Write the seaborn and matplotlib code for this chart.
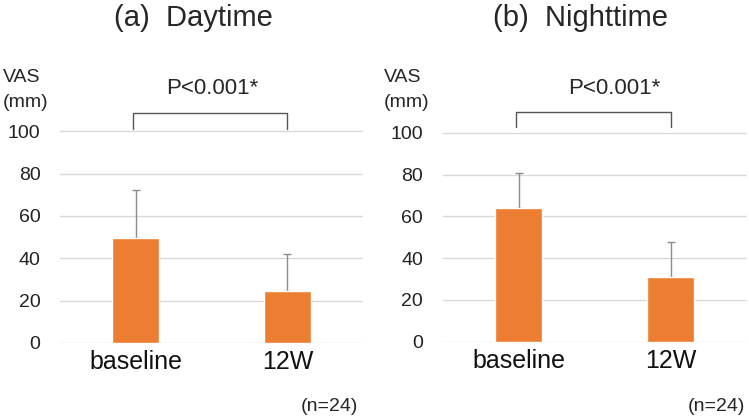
import numpy as np
import pandas as pd
import matplotlib
matplotlib.use("Agg")
import matplotlib.pyplot as plt
import seaborn as sns

# ----- DATA ---------------|
groups = ["baseline", "12W"]
day_mean = [49.5, 24.5]
day_sd = [22.7, 17.5]
night_mean = [64.0, 31.0]
night_sd = [16.6, 16.5]
titles = ["(a)  Daytime", "(b)  Nighttime"]
p_label = "P<0.001*"
n_label = "(n=24)"

BAR_COLOR = "#ED7D31"
ERR_COLOR = "#8c8c8c"
GRID_COLOR = "#d9d9d9"

sns.set_theme(style="white")
plt.rcParams["font.family"] = ["Liberation Sans", "DejaVu Sans"]

fig = plt.figure(figsize=(7.49, 4.17), dpi=100)
ax_day = fig.add_axes([0.080, 0.1775, 0.405, 0.569])
ax_night = fig.add_axes([0.591, 0.1806, 0.406, 0.561])


def draw_panel(ax, means, sds, bracket):
    df = pd.DataFrame({"group": groups, "vas": means})
    sns.barplot(data=df, x="group", y="vas", color=BAR_COLOR, width=0.31,
                saturation=1, errorbar=None, ax=ax, zorder=3)
    ax.errorbar(np.arange(len(groups)), means, yerr=[np.zeros(len(sds)), sds],
                fmt="none", ecolor=ERR_COLOR, elinewidth=1, capsize=3,
                capthick=1, zorder=2)
    ax.set_ylim(0, 112)
    ax.set_xlim(-0.5, 1.5)
    ax.set_yticks(range(0, 101, 20))
    ax.yaxis.grid(True, color=GRID_COLOR, linewidth=1, zorder=0)
    ax.set_axisbelow(True)
    for s in ax.spines.values():
        s.set_visible(False)
    ax.tick_params(axis="y", labelsize=14, length=0, pad=14, colors="#222222")
    ax.tick_params(axis="x", labelsize=18, length=0, pad=5, colors="#111111")
    ax.set_xlabel("")
    ax.set_ylabel("")
    # significance bracket
    lo, hi = bracket
    ax.plot([-0.02, -0.02, 1.0, 1.0], [lo, hi, hi, lo], color="#555555",
            linewidth=1, clip_on=False)


draw_panel(ax_day, day_mean, day_sd, (101, 108.5))
draw_panel(ax_night, night_mean, night_sd, (103, 110))

# titles and labels
fig.text(0.258, 0.958, titles[0], fontsize=21, ha="center", va="center")
fig.text(0.775, 0.958, titles[1], fontsize=21, ha="center", va="center")
fig.text(0.284, 0.787, p_label, fontsize=16, ha="center", va="center")
fig.text(0.820, 0.787, p_label, fontsize=16, ha="center", va="center")
for x0 in [0.004, 0.512]:
    fig.text(x0, 0.815, "VAS", fontsize=14, ha="left", va="center")
    fig.text(x0, 0.755, "(mm)", fontsize=14, ha="left", va="center")
fig.text(0.440, 0.026, n_label, fontsize=14, ha="center", va="center")
fig.text(0.956, 0.026, n_label, fontsize=14, ha="center", va="center")

fig.savefig("out.png", dpi=100)
